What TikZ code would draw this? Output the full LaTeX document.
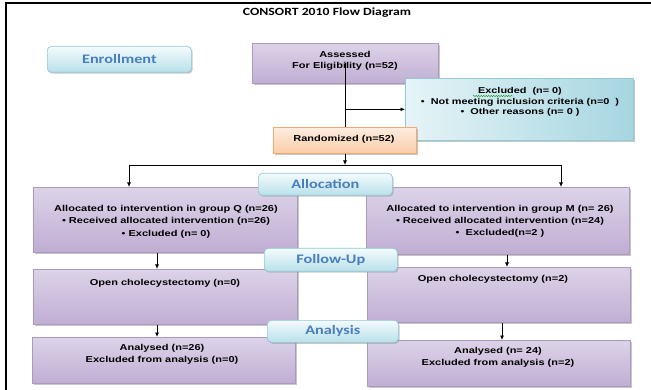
\documentclass[tikz,border=0pt]{standalone}
\usepackage{fontspec}
\setmainfont[FakeStretch=1.28]{Liberation Sans}
\newfontfamily\labelfont[FakeStretch=1.25]{Carlito}
\usetikzlibrary{arrows.meta,shadows,decorations.pathmorphing}

\definecolor{lavtop}{HTML}{DCD3E8}
\definecolor{lavmid}{HTML}{EAE5F1}
\definecolor{lavbot}{HTML}{C0AED3}
\definecolor{lavedge}{HTML}{A99ABF}
\definecolor{cyantop}{HTML}{F4FBFD}
\definecolor{cyanbot}{HTML}{B8E0EA}
\definecolor{cyanedge}{HTML}{93C9D6}
\definecolor{exclleft}{HTML}{E6F4F7}
\definecolor{exclright}{HTML}{A6D6E1}
\definecolor{peachtop}{HTML}{FDEDE0}
\definecolor{peachbot}{HTML}{FACDA8}
\definecolor{peachedge}{HTML}{F3A972}
\definecolor{stageblue}{HTML}{4A7EBE}

\tikzset{
  boxshadow/.style={drop shadow={shadow xshift=1.2pt, shadow yshift=-1.4pt, fill=black!40, opacity=.55}},
  purplebox/.style={draw=lavedge, line width=0.6pt, top color=lavtop, middle color=lavmid,
    bottom color=lavbot, boxshadow, inner sep=0, anchor=north west},
  stagelabel/.style={draw=cyanedge, line width=0.7pt, rounded corners=4pt, top color=cyantop,
    bottom color=cyanbot, boxshadow, inner sep=0, anchor=north west, text=stageblue,
    font=\labelfont\bfseries\fontsize{13}{15}\selectfont},
  exclbox/.style={draw=cyanedge, line width=0.6pt, left color=exclleft, right color=exclright,
    boxshadow, inner sep=0, anchor=north west},
  peachbox/.style={draw=peachedge, line width=0.7pt, top color=peachtop, bottom color=peachbot,
    boxshadow, inner sep=0, anchor=north west},
  boxtext/.style={font=\bfseries\fontsize{8.6}{11.5}\selectfont, align=center, inner sep=0},
  conn/.style={line width=0.8pt, black},
  arr/.style={conn, -{Latex[length=4.5pt,width=4pt]}},
}

\begin{document}
\begin{tikzpicture}[x=1pt,y=1pt]
\useasboundingbox (0,0) rectangle (651,-390);

% frame edges
\draw[line width=2pt] (6,-390) -- (6,-3) -- (651,-3);

% title
\node[font=\labelfont\bfseries\fontsize{11}{13}\selectfont, inner sep=0] (title) at (327,-13) {CONSORT 2010 Flow Diagram};

% enrollment stage
\node[stagelabel, minimum width=144, minimum height=26] (enroll) at (47,-46) {Enrollment};
\node[purplebox, minimum width=186, minimum height=40] (assess) at (252,-43) {};
\node[boxtext] (assesstext) at (345,-61) {Assessed\\For Eligibility (n=52)};

\node[exclbox, minimum width=228, minimum height=62] (excl) at (405,-78) {};
\node[boxtext, font=\bfseries\fontsize{8.5}{10.5}\selectfont] (excltext) at (520,-102)
  {Excluded\ \ (n= 0)\\\textbullet\ \ Not meeting inclusion criteria (n=0\ \ )\\\textbullet\ \ Other reasons (n= 0 )};
\coordinate (squigA) at (473,-96);
\coordinate (squigB) at (513,-96);
\draw[green!55!black, line width=0.4pt, decorate,
  decoration={snake, amplitude=0.6pt, segment length=2.5pt}] (squigA) -- (squigB);

\node[peachbox, minimum width=143, minimum height=26] (rand) at (273,-127) {};
\node[boxtext] (randtext) at (344,-139) {Randomized (n=52)};

% allocation stage
\node[purplebox, minimum width=264, minimum height=65] (allocL) at (33,-187) {};
\node[purplebox, minimum width=263, minimum height=67] (allocR) at (366,-187) {};
\node[boxtext, font=\bfseries\fontsize{8.6}{12.5}\selectfont] (allocLtext) at (166,-221.5)
  {Allocated to intervention in group Q (n=26)\\\textbullet\ Received allocated intervention (n=26)\\\textbullet\ Excluded (n= 0)};
\node[boxtext, font=\bfseries\fontsize{8.6}{12}\selectfont] (allocRtext) at (500,-221)
  {Allocated to intervention in group M (n= 26)\\\textbullet\ Received allocated intervention (n=24)\\\textbullet\ \ Excluded(n=2 )};
\node[stagelabel, minimum width=134, minimum height=22] (allocation) at (258,-173) {Allocation};

% follow-up stage
\node[purplebox, minimum width=264, minimum height=55] (followL) at (33,-269) {};
\node[purplebox, minimum width=263, minimum height=55] (followR) at (367,-267) {};
\node[boxtext] (followLtext) at (165,-283) {Open cholecystectomy (n=0)};
\node[boxtext] (followRtext) at (493,-279) {Open cholecystectomy (n=2)};
\node[stagelabel, minimum width=133, minimum height=23] (followup) at (264,-248) {Follow-Up};

% analysis stage
\node[purplebox, minimum width=263, minimum height=46] (anaL) at (32,-337) {};
\node[purplebox, minimum width=263, minimum height=46] (anaR) at (367,-340) {};
\node[boxtext] (anaLtext) at (162,-354.5) {Analysed (n=26)\\Excluded from analysis (n=0)};
\node[boxtext] (anaRtext) at (498,-357.5) {Analysed (n= 24)\\Excluded from analysis (n=2)};
\node[stagelabel, minimum width=131, minimum height=22] (analysis) at (267,-320) {Analysis};

% connectors
\coordinate (split)  at (345,-165);
\coordinate (splitL) at (129,-165);
\coordinate (splitR) at (561,-165);
\coordinate (colL)   at (157,0);
\coordinate (colR)   at (507,0);
\coordinate (colRb)  at (502,0);

\draw[conn] (assess.center) -- (assess.center |- rand.north);
\draw[arr] (assess.center |- excl.west) -- (excl.west);
\draw[arr] (rand.south -| split) -- (split);
\draw[conn] (splitL) -- (splitR);
\draw[arr] (splitL) -- (splitL |- allocL.north);
\draw[arr] (splitR) -- (splitR |- allocR.north);
\draw[arr] (allocL.south -| colL) -- (followL.north -| colL);
\draw[arr] (allocR.south -| colR) -- (followR.north -| colR);
\draw[arr] (followL.south -| colL) -- (anaL.north -| colL);
\draw[arr] (followR.south -| colRb) -- (anaR.north -| colRb);
\end{tikzpicture}
\end{document}
